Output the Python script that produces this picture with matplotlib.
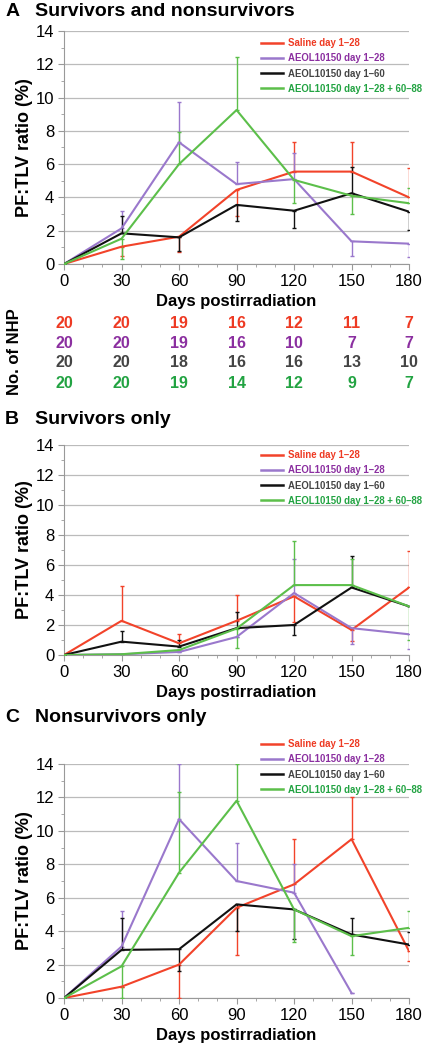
import matplotlib.pyplot as plt
import numpy as np
from matplotlib.ticker import MultipleLocator
from matplotlib.transforms import blended_transform_factory

plt.rcParams['font.family'] = ['Liberation Sans', 'DejaVu Sans']

days = [0, 30, 60, 90, 120, 150, 180]
labels = ['Saline day 1\u201328', 'AEOL10150 day 1\u201328',
          'AEOL10150 day 1\u201360', 'AEOL10150 day 1\u201328 + 60\u201388']
nan = np.nan

# Panel A: survivors and nonsurvivors (mean and error-bar tip)
a_saline = [0, 1.04, 1.64, 4.45, 5.55, 5.55, 4.0]
a_saline_tip = [nan, 0.5, 0.7, 2.9, 7.35, 7.35, 5.75]
a_d28 = [0, 2.14, 7.31, 4.8, 5.1, 1.36, 1.22]
a_d28_tip = [nan, 3.18, 9.72, 6.1, 6.65, 0.48, 0.4]
a_d60 = [0, 1.84, 1.6, 3.55, 3.2, 4.25, 3.14]
a_d60_tip = [nan, 2.9, 0.8, 2.6, 2.14, 5.85, 2.04]
a_d88 = [0, 1.52, 6.0, 9.25, 5.05, 4.1, 3.65]
a_d88_tip = [nan, 0.3, 7.95, 12.45, 3.65, 3.0, 4.55]

# Panel B: survivors only
b_saline = [0, 2.28, 0.78, 2.28, 3.91, 1.67, 4.5]
b_saline_tip = [nan, 4.58, 1.43, 4.02, 2.2, 0.9, 6.96]
b_d28 = [0, 0.05, 0.2, 1.2, 4.13, 1.79, 1.38]
b_d28_tip = [nan, nan, nan, nan, 6.4, 0.71, 0.38]
b_d60 = [0, 0.89, 0.56, 1.79, 2.0, 4.5, 3.24]
b_d60_tip = [nan, 1.6, 1.0, 2.88, 1.3, 6.63, nan]
b_d88 = [0, 0.05, 0.33, 1.76, 4.66, 4.66, 3.24]
b_d88_tip = [nan, nan, nan, 0.49, 7.63, 6.4, 1.0]

# Panel C: nonsurvivors only
c_saline = [0, 0.68, 2.0, 5.4, 6.8, 9.5, 2.8]
c_saline_tip = [nan, nan, 0, 2.6, 9.5, 12.0, 2.24]
c_d28 = [0, 3.08, 10.7, 7.0, 6.3, 0.3, nan]
c_d28_tip = [nan, 5.2, 14, 9.3, 8.0, nan, nan]
c_d60 = [0, 2.88, 2.92, 5.6, 5.3, 3.8, 3.2]
c_d60_tip = [nan, 4.8, 1.64, 4.0, 3.54, 4.8, 3.94]
c_d88 = [0, 1.9, 7.5, 11.8, 5.3, 3.7, 4.2]
c_d88_tip = [nan, 0, 12.3, 14, 3.34, 2.6, 5.2]

# Number of NHP per group per time point
nhp_saline = [20, 20, 19, 16, 12, 11, 7]
nhp_d28 = [20, 20, 19, 16, 10, 7, 7]
nhp_d60 = [20, 20, 18, 16, 16, 13, 10]
nhp_d88 = [20, 20, 19, 14, 12, 9, 7]

line_colors = ['#f2432a', '#9a78cc', '#111111', '#5cbf4a']
text_colors = ['#ee3a23', '#8b2fa0', '#444444', '#22a342']

fig = plt.figure(figsize=(4.27, 10.5), dpi=100)


def panel(rect, series, tips, letter, title, title_y, legend_y):
    ax = fig.add_axes(rect)
    for m, t, lc in zip(series, tips, line_colors):
        m = np.array(m, float)
        t = np.array(t, float)
        lo = np.nan_to_num(np.where(t < m, m - t, 0))
        hi = np.nan_to_num(np.where(t > m, t - m, 0))
        ax.errorbar(days, m, yerr=[lo, hi], color=lc, lw=1.5,
                    elinewidth=1.0, capsize=1.5, capthick=1.0, zorder=3)
    ax.set_xlim(0, 180)
    ax.set_ylim(0, 14)
    ax.set_xticks(days)
    ax.set_yticks(range(0, 15, 2))
    ax.xaxis.set_minor_locator(MultipleLocator(10))
    ax.yaxis.set_minor_locator(MultipleLocator(1))
    ax.grid(axis='y', which='major', color='#bbbbbb', lw=0.9)
    ax.set_axisbelow(True)
    for s in ['top', 'right']:
        ax.spines[s].set_visible(False)
    for s in ['left', 'bottom']:
        ax.spines[s].set_color('#999999')
    ax.tick_params(which='major', length=4, color='#999999', labelsize=12, pad=3)
    ax.tick_params(which='minor', length=2.5, color='#999999')
    ax.set_ylabel('PF:TLV ratio (%)', fontsize=13, fontweight='bold', labelpad=2)
    ax.set_xlabel('Days postirradiation', fontsize=12, fontweight='bold', labelpad=4)
    fig.text(0.012, title_y, letter, fontsize=14, fontweight='bold', va='center')
    fig.text(0.082, title_y, title, fontsize=14, fontweight='bold', va='center')
    handles = [plt.Line2D([], [], color=c, lw=1.8) for c in line_colors]
    ax.legend(handles, labels, loc='upper left', bbox_to_anchor=(0.612, legend_y),
              bbox_transform=fig.transFigure, frameon=False,
              labelcolor=text_colors, handlelength=2.3, handletextpad=0.45,
              labelspacing=0.55, borderaxespad=0, borderpad=0,
              prop={'weight': 'bold', 'size': 6.9})
    return ax


ax_a = panel([0.150, 0.7486, 0.808, 0.2219],
             [a_saline, a_d28, a_d60, a_d88],
             [a_saline_tip, a_d28_tip, a_d60_tip, a_d88_tip],
             'A', 'Survivors and nonsurvivors', 1 - 11 / 1050, 1 - 38 / 1050)
panel([0.150, 0.3762, 0.808, 0.2000],
      [b_saline, b_d28, b_d60, b_d88],
      [b_saline_tip, b_d28_tip, b_d60_tip, b_d88_tip],
      'B', 'Survivors only', 1 - 420 / 1050, 1 - 450 / 1050)
panel([0.150, 0.0495, 0.808, 0.2229],
      [c_saline, c_d28, c_d60, c_d88],
      [c_saline_tip, c_d28_tip, c_d60_tip, c_d88_tip],
      'C', 'Nonsurvivors only', 1 - 718 / 1050, 1 - 739 / 1050)

# No. of NHP table under panel A
tr = blended_transform_factory(ax_a.transData, fig.transFigure)
rows_y = [324, 343, 363, 383]
for counts, col, yp in zip([nhp_saline, nhp_d28, nhp_d60, nhp_d88], text_colors, rows_y):
    for d, n in zip(days, counts):
        ax_a.text(d, 1 - yp / 1050, str(n), transform=tr, color=col,
                  fontsize=11.5, fontweight='bold', ha='center', va='center',
                  clip_on=False)
fig.text(0.035, 1 - 352 / 1050, 'No. of NHP', rotation=90, fontsize=12,
         fontweight='bold', ha='center', va='center')

fig.savefig('out.png', dpi=100)
